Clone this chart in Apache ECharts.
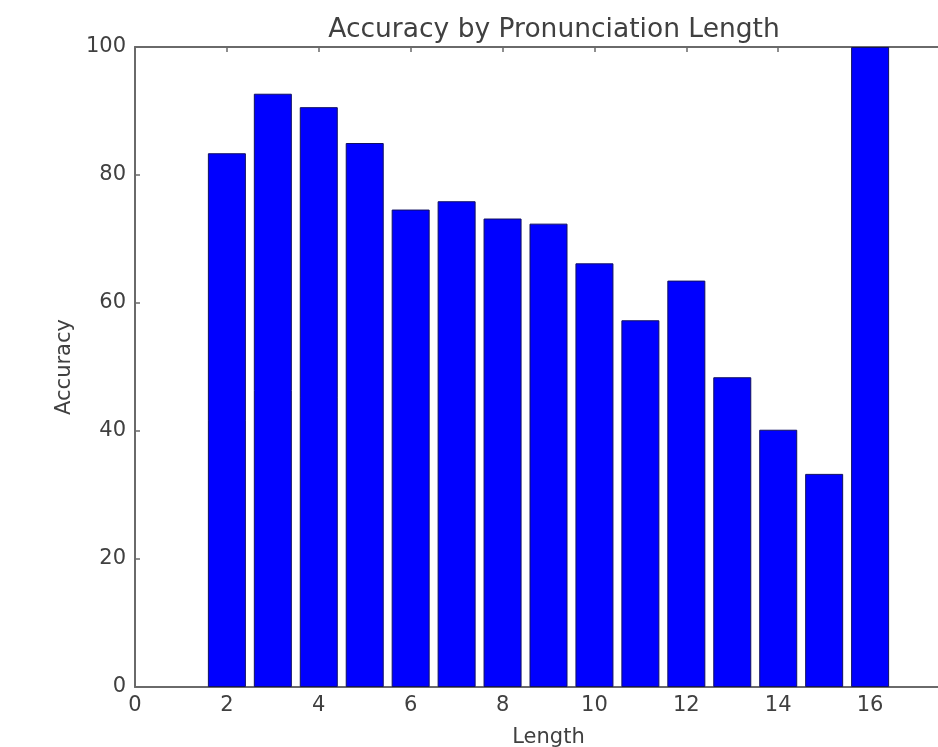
<!DOCTYPE html>
<html>
<head>
<meta charset="utf-8">
<script src="https://cdn.jsdelivr.net/npm/echarts@6/dist/echarts.min.js"></script>
<style>html,body{margin:0;padding:0;background:#fff}#c{width:938px;height:747px}</style>
</head>
<body>
<div id="c"></div>
<script>
const lengths = [2, 3, 4, 5, 6, 7, 8, 9, 10, 11, 12, 13, 14, 15, 16];
const accuracy = [83.4, 92.7, 90.6, 85.0, 74.6, 75.9, 73.2, 72.4, 66.2, 57.3, 63.5, 48.4, 40.2, 33.3, 100];
const xTicks = [0, 2, 4, 6, 8, 10, 12, 14, 16, 18];
const yTicks = [0, 20, 40, 60, 80, 100];
const titleText = 'Accuracy by Pronunciation Length';
const xName = 'Length';
const yName = 'Accuracy';

const axisColor = '#6a6a6a';
const textColor = '#404040';
const font = 'DejaVu Sans';

const chart = echarts.init(document.getElementById('c'), null, {renderer: 'canvas'});
chart.setOption({
  backgroundColor: '#fff',
  animation: false,
  title: {
    text: titleText,
    left: 549, top: 12, textAlign: 'center',
    textStyle: {fontFamily: font, fontSize: 26.5, fontWeight: 'normal', color: textColor}
  },
  grid: {left: 135, top: 47, width: 827, height: 640, containLabel: false, outerBoundsMode: 'none'},
  xAxis: [{
    type: 'value', min: xTicks[0], max: xTicks[xTicks.length - 1], interval: 2,
    name: xName, nameLocation: 'middle', nameGap: 40,
    nameTextStyle: {fontFamily: font, fontSize: 21, color: textColor},
    axisLine: {show: true, onZero: false, lineStyle: {color: axisColor, width: 2}},
    axisTick: {show: true, inside: true, length: 5, lineStyle: {color: axisColor, width: 1.5}},
    axisLabel: {fontFamily: font, fontSize: 21, color: textColor, margin: 8},
    splitLine: {show: false}
  }, {
    type: 'value', position: 'top', min: xTicks[0], max: xTicks[xTicks.length - 1], interval: 2,
    axisLine: {show: true, onZero: false, lineStyle: {color: axisColor, width: 2}},
    axisTick: {show: true, inside: true, length: 5, lineStyle: {color: axisColor, width: 1.5}},
    axisLabel: {show: false},
    splitLine: {show: false}
  }],
  yAxis: [{
    type: 'value', min: yTicks[0], max: yTicks[yTicks.length - 1], interval: 20,
    name: yName, nameLocation: 'middle', nameGap: 58, nameRotate: 90,
    nameTextStyle: {fontFamily: font, fontSize: 21, color: textColor},
    axisLine: {show: true, onZero: false, lineStyle: {color: axisColor, width: 2}},
    axisTick: {show: true, inside: true, length: 5, lineStyle: {color: axisColor, width: 1.5}},
    axisLabel: {fontFamily: font, fontSize: 21, color: textColor, margin: 9},
    splitLine: {show: false}
  }],
  series: [{
    type: 'bar',
    barWidth: 38,
    data: lengths.map((l, i) => [l, accuracy[i]]),
    itemStyle: {color: '#0000ff', borderColor: '#101060', borderWidth: 1}
  }]
});
</script>
</body>
</html>
